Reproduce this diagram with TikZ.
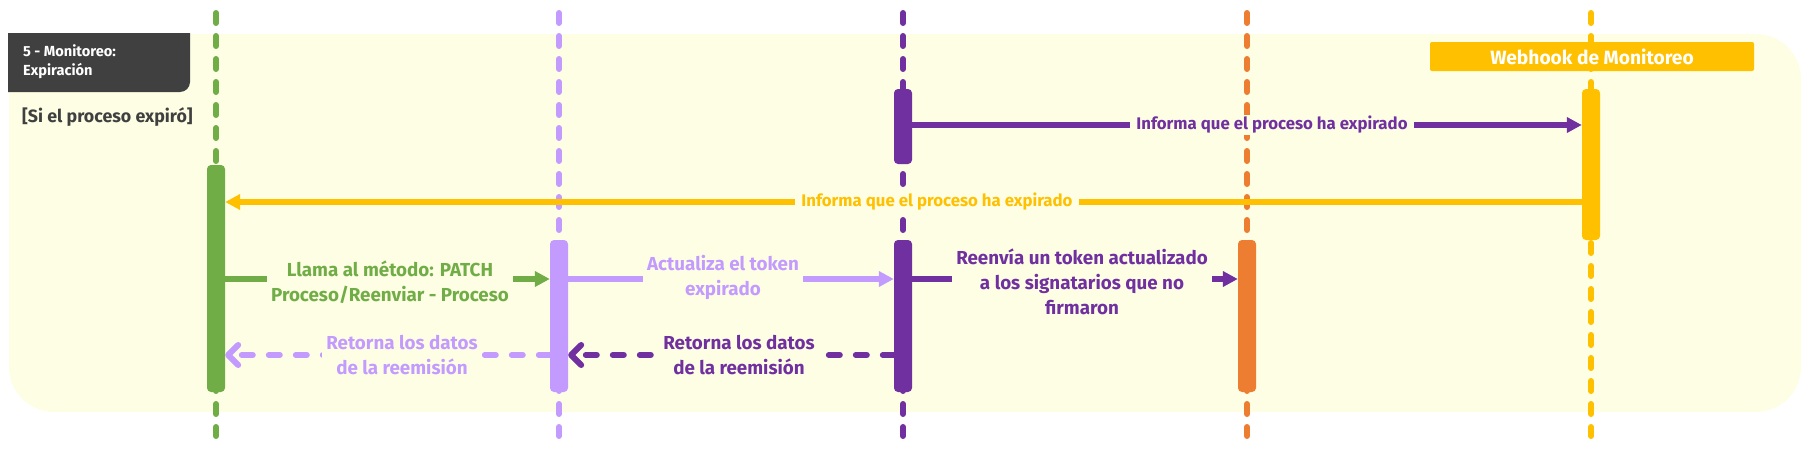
\documentclass[tikz,border=0pt]{standalone}
\usepackage{fontspec}
\setmainfont{Fira Sans}
\usetikzlibrary{arrows.meta}
\definecolor{bgpanel}{HTML}{FEFEE4}
\definecolor{darkbox}{HTML}{404040}
\definecolor{textgray}{HTML}{404040}
\definecolor{cgreen}{HTML}{70AD47}
\definecolor{clilac}{HTML}{C39BFF}
\definecolor{cpurple}{HTML}{7030A0}
\definecolor{corange}{HTML}{ED7D31}
\definecolor{cyellow}{HTML}{FFC000}
\tikzset{
  lifeline/.style={line width=6pt, line cap=round, dash pattern=on 10pt off 13pt},
  actbar/.style={rounded corners=4pt, minimum width=18pt, inner sep=0pt, draw=none},
  callmsg/.style={line width=6pt, -{Triangle[length=15pt,width=15pt]}},
  retmsg/.style={line width=6pt, line cap=round, dash pattern=on 11pt off 16pt,
     -{Straight Barb[length=10pt,width=20pt,line cap=round,line join=round]}},
  msglbl/.style={fill=bgpanel, inner xsep=4pt, inner ysep=0pt, align=center,
     font=\fontsize{18.8}{25}\selectfont\bfseries},
  smalllbl/.style={fill=bgpanel, inner xsep=6pt, inner ysep=1pt,
     font=\fontsize{16.8}{18}\selectfont\bfseries},
}
\begin{document}
\begin{tikzpicture}[x=1pt,y=-1pt]
\useasboundingbox (0,0) rectangle (1810,455);
% panel
\fill[bgpanel, rounded corners=45pt] (9,34) rectangle (1801,412);
% title box
\fill[darkbox] (8,33) -- (190,33) [rounded corners=10pt] -- (190,92) [sharp corners] -- (8,92) -- cycle;
\node[anchor=west, text=white, align=left, inner sep=0pt,
      font=\fontsize{14.6}{19}\selectfont\bfseries] (title) at (23,62) {5 - Monitoreo:\\Expiración};
\node[anchor=west, text=textgray, inner sep=0pt,
      font=\fontsize{17.8}{20}\selectfont\bfseries] (cond) at (22,117) {[Si el proceso expiró]};
% lifelines
\coordinate (gT) at (216,13);  \coordinate (gB) at (216,436);
\coordinate (lT) at (559,13);  \coordinate (lB) at (559,436);
\coordinate (pT) at (903,13);  \coordinate (pB) at (903,436);
\coordinate (oT) at (1247,13); \coordinate (oB) at (1247,436);
\coordinate (yT) at (1591,13); \coordinate (yB) at (1591,436);
\draw[lifeline, cgreen] (gT) -- (gB);
\draw[lifeline, clilac] (lT) -- (lB);
\draw[lifeline, cpurple] (pT) -- (pB);
\draw[lifeline, corange] (oT) -- (oB);
\draw[lifeline, cyellow] (yT) -- (yB);
% webhook box
\node[fill=cyellow, rounded corners=2pt, minimum width=324pt, minimum height=29pt, inner sep=0pt,
      text=white, font=\fontsize{19.2}{21}\selectfont\bfseries] (wh) at (1592,56.5) {Webhook de Monitoreo};
% activation bars
\node[actbar, fill=cpurple, minimum height=75pt] (pA1) at (903,126.5) {};
\node[actbar, fill=cyellow, minimum height=151pt] (yA) at (1591,164.5) {};
\node[actbar, fill=cgreen, minimum height=227pt] (gA) at (216,278.5) {};
\node[actbar, fill=clilac, minimum height=152pt] (lA) at (559,316) {};
\node[actbar, fill=cpurple, minimum height=152pt] (pA2) at (903,316) {};
\node[actbar, fill=corange, minimum height=152pt] (oA) at (1247,316) {};
% messages
\draw[callmsg, cpurple] (pA1.east |- 0,125) -- (yA.west |- 0,125);
\node[smalllbl, text=cpurple] (m1) at (1272,125) {Informa que el proceso ha expirado};
\draw[callmsg, cyellow] (yA.west |- 0,202) -- (gA.east |- 0,202);
\node[smalllbl, text=cyellow] (m2) at (937,202) {Informa que el proceso ha expirado};
\draw[callmsg, cgreen] (gA.east |- 0,279) -- (lA.west |- 0,279);
\node[msglbl, text=cgreen] (m3) at (390,282) {Llama al método: PATCH\\Proceso/Reenviar - Proceso};
\draw[callmsg, clilac] (lA.east |- 0,279) -- (pA2.west |- 0,279);
\node[msglbl, text=clilac] (m4) at (723,277) {Actualiza el token\\expirado};
\draw[callmsg, cpurple] (pA2.east |- 0,279) -- (oA.west |- 0,279);
\node[msglbl, text=cpurple] (m5) at (1082,282) {Reenvía un token actualizado\\a los signatarios que no\\firmaron};
\draw[retmsg, cpurple] (pA2.west |- 0,355) -- (lA.east |- 0,355);
\node[msglbl, text=cpurple] (m6) at (739,355) {Retorna los datos\\de la reemisión};
\draw[retmsg, clilac] (lA.west |- 0,355) -- (gA.east |- 0,355);
\node[msglbl, text=clilac] (m7) at (402,355) {Retorna los datos\\de la reemisión};
\end{tikzpicture}
\end{document}
